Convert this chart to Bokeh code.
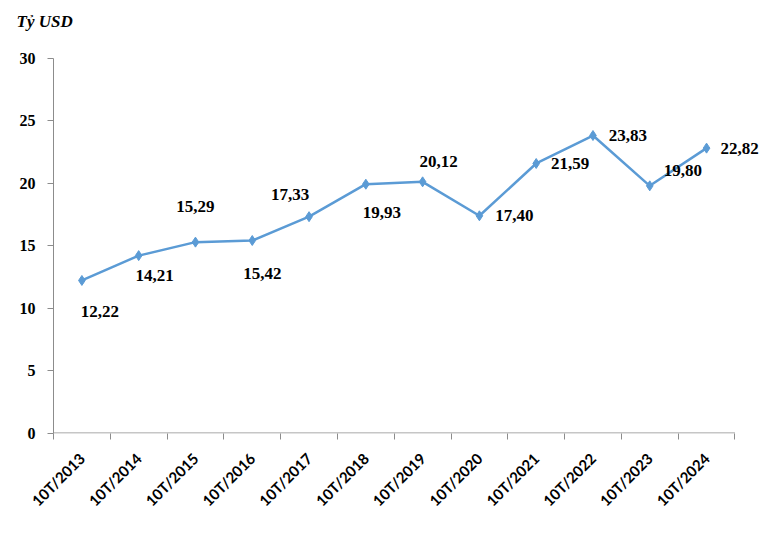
from math import pi
from bokeh.plotting import figure
from bokeh.models import ColumnDataSource, FixedTicker, Range1d, LabelSet
from bokeh.embed import file_html
from bokeh.resources import INLINE

categories = ["10T/2013", "10T/2014", "10T/2015", "10T/2016", "10T/2017", "10T/2018",
              "10T/2019", "10T/2020", "10T/2021", "10T/2022", "10T/2023", "10T/2024"]
values = [12.22, 14.21, 15.29, 15.42, 17.33, 19.93, 20.12, 17.40, 21.59, 23.83, 19.80, 22.82]
y_ticks = [0, 5, 10, 15, 20, 25, 30]
unit_label = "Tỷ USD"

# label offsets (screen px, +x right, +y up) – styling only
label_dx = [18, 16, 0, 10, -19, 16, 16, 35, 34, 35, 33, 33]
label_dy = [-31, -20, 36, -33, 22, -28, 20, 0, 0, 0, 15, 0]

n = len(categories)
xs = [i + 0.5 for i in range(n)]
src = ColumnDataSource(dict(
    x=xs, y=values,
    lbl=[f"{v:.2f}".replace(".", ",") for v in values],
    dx=label_dx, dy=label_dy,
))

# frame is widened past the last category so the last value label is not clipped
p = figure(width=760, height=527, output_backend="svg", toolbar_location=None,
           x_range=Range1d(0, n + 0.45), y_range=Range1d(-0.04, 30),
           min_border_left=53, min_border_right=0, min_border_top=58, min_border_bottom=94,
           title=unit_label + "\n ")
p.outline_line_color = None
p.xgrid.grid_line_color = None
p.ygrid.grid_line_color = None
p.background_fill_color = "white"
p.border_fill_color = "white"

p.title.text_font = "Liberation Serif"
p.title.text_font_style = "bold italic"
p.title.text_font_size = "17px"
p.title.align = "left"
p.title.offset = -37
p.title.standoff = 18
p.title.text_color = "black"

axis_color = "#8c8c8c"
# x axis baseline, only across the category span
p.segment(x0=[0], y0=[0], x1=[n], y1=[0], line_color=axis_color, line_width=1)

p.line("x", "y", source=src, line_color="#5B9BD5", line_width=2.5)
p.scatter("x", "y", source=src, marker="diamond", size=10, fill_color="#5B9BD5",
          line_color="#5B9BD5")
p.add_layout(LabelSet(x="x", y="y", text="lbl", source=src, x_offset="dx", y_offset="dy",
                      text_font="Liberation Serif", text_font_style="bold",
                      text_font_size="17px", text_align="center", text_baseline="middle",
                      text_color="black"))

# x axis
xa = p.xaxis[0]
xa.ticker = FixedTicker(ticks=xs, minor_ticks=list(range(n + 1)))
xa.major_label_overrides = {x: c for x, c in zip(xs, categories)}
xa.major_tick_line_color = None
xa.minor_tick_line_color = axis_color
xa.minor_tick_out = 6
xa.minor_tick_in = 0
xa.axis_line_color = None
xa.major_label_orientation = pi / 4
xa.major_label_text_font = "Lato"
xa.major_label_text_font_style = "bold"
xa.major_label_text_font_size = "15px"
xa.major_label_text_color = "black"
xa.major_label_standoff = 16

# y axis
ya = p.yaxis[0]
ya.ticker = FixedTicker(ticks=y_ticks, minor_ticks=[])
ya.axis_line_color = axis_color
ya.major_tick_line_color = axis_color
ya.major_tick_out = 6
ya.major_tick_in = 0
ya.major_label_text_font = "Liberation Serif"
ya.major_label_text_font_style = "bold"
ya.major_label_text_font_size = "16px"
ya.major_label_text_color = "black"
ya.major_label_standoff = 12

open("out.html", "w").write(file_html(p, INLINE))
